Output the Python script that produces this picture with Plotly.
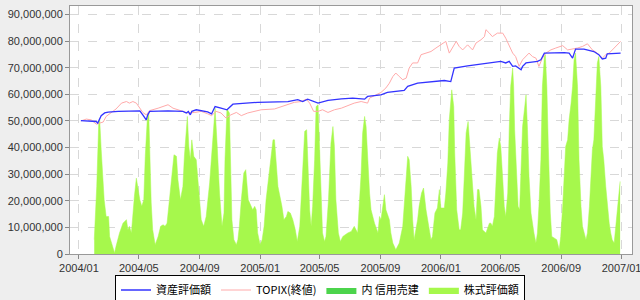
import plotly.graph_objects as go

# 株式評価額 (stock valuation), in yen millions
stock_dates = [
"2004-02-01","2004-02-06","2004-02-10","2004-02-12","2004-02-15","2004-02-21","2004-02-25","2004-03-01","2004-03-03","2004-03-10",
"2004-03-13","2004-03-16","2004-03-23","2004-03-30","2004-04-06","2004-04-09","2004-04-12","2004-04-16","2004-04-19","2004-04-22",
"2004-04-26","2004-04-29","2004-05-03","2004-05-07","2004-05-11","2004-05-14","2004-05-18","2004-05-21","2004-05-23","2004-05-26",
"2004-05-29","2004-06-03","2004-06-09","2004-06-14","2004-06-19","2004-06-23","2004-06-27","2004-07-02","2004-07-07","2004-07-11",
"2004-07-16","2004-07-19","2004-07-24","2004-07-29","2004-08-01","2004-08-05","2004-08-07","2004-08-10","2004-08-13","2004-08-16",
"2004-08-20","2004-08-25","2004-08-30","2004-09-04","2004-09-09","2004-09-14","2004-09-21","2004-09-27","2004-10-02","2004-10-06",
"2004-10-11","2004-10-16","2004-10-20","2004-10-22","2004-10-26","2004-10-31","2004-11-02","2004-11-05","2004-11-09","2004-11-14",
"2004-11-17","2004-11-20","2004-11-24","2004-11-29","2004-12-03","2004-12-06","2004-12-08","2004-12-17","2004-12-21","2004-12-24",
"2004-12-27","2005-01-01","2005-01-05","2005-01-09","2005-01-13","2005-01-20","2005-01-27","2005-01-30","2005-02-02","2005-02-06",
"2005-02-14","2005-02-18","2005-02-23","2005-02-26","2005-03-03","2005-03-08","2005-03-13","2005-03-17","2005-03-22","2005-03-25",
"2005-03-28","2005-04-01","2005-04-05","2005-04-07","2005-04-11","2005-04-14","2005-04-17","2005-04-21","2005-04-24","2005-04-28",
"2005-05-01","2005-05-04","2005-05-07","2005-05-11","2005-05-14","2005-05-19","2005-05-24","2005-05-28","2005-05-31","2005-06-03",
"2005-06-08","2005-06-12","2005-06-17","2005-06-27","2005-07-04","2005-07-10","2005-07-17","2005-07-20","2005-07-24","2005-07-27",
"2005-07-31","2005-08-03","2005-08-06","2005-08-10","2005-08-13","2005-08-20","2005-08-27","2005-08-30","2005-09-02","2005-09-05",
"2005-09-09","2005-09-12","2005-09-19","2005-09-22","2005-09-26","2005-10-02","2005-10-09","2005-10-16","2005-10-19","2005-10-23",
"2005-10-26","2005-10-29","2005-11-02","2005-11-05","2005-11-08","2005-11-15","2005-11-18","2005-11-23","2005-11-27","2005-12-02",
"2005-12-09","2005-12-12","2005-12-15","2005-12-20","2005-12-25","2005-12-29","2006-01-01","2006-01-08","2006-01-11","2006-01-15",
"2006-01-18","2006-01-23","2006-01-27","2006-01-29","2006-02-02","2006-02-07","2006-02-10","2006-02-14","2006-02-17","2006-02-21",
"2006-02-25","2006-03-01","2006-03-06","2006-03-09","2006-03-13","2006-03-16","2006-03-19","2006-03-23","2006-03-26","2006-04-02",
"2006-04-09","2006-04-12","2006-04-15","2006-04-19","2006-04-22","2006-04-25","2006-04-29","2006-05-02","2006-05-06","2006-05-09",
"2006-05-12","2006-05-16","2006-05-19","2006-05-22","2006-05-26","2006-05-28","2006-05-30","2006-06-03","2006-06-06","2006-06-09",
"2006-06-12","2006-06-15","2006-06-18","2006-06-22","2006-06-25","2006-06-28","2006-07-02","2006-07-05","2006-07-08","2006-07-12",
"2006-07-15","2006-07-18","2006-07-22","2006-07-25","2006-07-29","2006-07-31","2006-08-03","2006-08-06","2006-08-10","2006-08-13",
"2006-08-18","2006-08-23","2006-08-28","2006-08-31","2006-09-04","2006-09-07","2006-09-10","2006-09-14","2006-09-17","2006-09-21",
"2006-09-24","2006-09-27","2006-09-30","2006-10-04","2006-10-07","2006-10-11","2006-10-14","2006-10-21","2006-10-24","2006-10-28",
"2006-10-31","2006-11-03","2006-11-06","2006-11-10","2006-11-13","2006-11-16","2006-11-20","2006-11-23","2006-11-26","2006-11-30",
"2006-12-03","2006-12-07","2006-12-10","2006-12-13","2006-12-17","2006-12-20","2006-12-23","2006-12-27","2006-12-29"]
stock_values = [
5.4,25.4,49.2,50.4,39.2,20.4,14.1,14.1,6.6,1.6,
0.4,2.9,7.9,11.6,12.9,9.1,10.4,7.9,16.6,21.6,
28.5,25.4,20.4,17.9,20.4,36.7,50.4,53.0,36.7,19.2,
9.1,3.5,6.6,10.4,11.0,10.4,11.6,20.4,31.7,37.3,
36.7,27.9,20.4,25.4,36.7,49.2,51.7,40.4,35.4,42.9,
36.7,35.4,25.4,12.9,10.4,14.1,26.7,41.7,54.8,41.7,
22.9,10.4,15.4,35.4,54.5,53.0,35.4,12.9,5.4,3.5,
5.4,10.4,20.4,30.4,31.7,25.4,20.4,16.6,17.9,16.6,
7.9,3.5,5.4,10.4,20.4,31.7,42.9,42.9,35.4,25.4,
17.9,12.9,14.1,16.0,15.4,12.9,9.1,4.7,10.4,22.9,
35.4,46.1,46.7,37.9,16.6,10.4,17.9,35.4,55.4,56.1,
40.4,22.9,7.9,4.7,6.6,20.4,41.7,47.9,40.4,20.4,
7.9,4.7,6.6,7.9,8.5,10.4,7.9,17.9,30.4,45.5,
51.7,47.9,35.4,22.9,16.6,11.6,7.9,14.1,12.9,17.9,
22.3,16.6,12.9,7.9,4.1,1.6,4.1,10.4,17.9,27.9,
36.7,35.4,25.4,12.9,5.4,12.9,17.9,22.9,24.8,16.6,
7.9,5.4,6.6,15.4,17.3,24.2,17.3,17.3,22.9,34.2,
50.5,61.7,55.4,37.9,16.6,9.1,9.1,15.4,27.9,45.5,
49.8,37.9,26.7,17.9,12.9,24.2,24.2,17.9,9.1,7.9,
11.6,11.6,10.4,14.1,25.4,37.9,43.6,40.4,27.9,17.9,
14.1,22.9,46.7,63.0,69.9,63.0,46.7,27.9,17.9,16.6,
32.9,47.9,53.0,59.8,46.7,29.2,15.4,10.4,7.9,4.1,
7.9,17.9,35.4,63.0,74.2,74.9,63.0,40.4,15.4,6.6,
6.0,5.4,1.6,6.6,17.9,29.2,40.4,42.9,50.5,56.7,
63.0,73.0,75.5,63.0,35.4,17.9,10.4,5.4,7.9,17.9,
31.7,39.2,42.9,63.0,71.8,74.2,63.0,40.4,35.4,25.4,
17.9,11.6,7.9,5.4,4.1,10.4,17.9,25.4,27.3]

# 資産評価額 (asset valuation), in yen millions
asset_dates = [
"2004-01-05","2004-02-05","2004-02-08","2004-02-15","2004-02-22","2004-02-29","2004-03-20","2004-04-22","2004-05-03","2004-05-09",
"2004-05-16","2004-05-19","2004-05-23","2004-06-29","2004-07-29","2004-08-05","2004-08-09","2004-08-13","2004-08-16","2004-08-25",
"2004-09-04","2004-09-17","2004-09-25","2004-10-02","2004-10-14","2004-10-26","2004-11-07","2004-12-27","2005-02-26","2005-03-18",
"2005-03-28","2005-04-07","2005-04-28","2005-05-18","2005-06-14","2005-07-07","2005-07-31","2005-08-06","2005-09-02","2005-09-15",
"2005-10-19","2005-10-26","2005-11-15","2006-01-08","2006-01-21","2006-01-28","2006-02-24","2006-04-05","2006-05-02","2006-05-12",
"2006-05-19","2006-05-26","2006-06-01","2006-06-12","2006-06-15","2006-06-22","2006-07-15","2006-07-22","2006-07-29","2006-09-07",
"2006-09-17","2006-09-24","2006-09-30","2006-10-17","2006-11-06","2006-11-16","2006-11-23","2006-11-30","2006-12-03","2006-12-30"]
asset_values = [
50.1,49.8,49.2,52.0,53.0,53.3,53.6,53.8,53.8,52.3,
50.4,52.3,53.6,53.8,53.6,53.0,53.6,52.3,53.6,54.2,
53.9,53.4,52.7,55.4,54.8,54.2,56.3,57.0,57.3,58.0,
57.3,58.2,56.7,57.7,58.3,58.6,58.2,59.2,59.8,60.7,
61.5,63.0,64.2,65.2,64.8,69.9,70.7,71.8,72.4,71.8,
72.4,70.5,70.7,69.2,70.5,71.8,72.4,73.0,75.5,75.7,
75.5,73.6,77.0,77.0,76.1,74.9,73.3,73.6,75.2,75.5]

# TOPIX(終値), scaled to the same axis, in millions
topix_dates = [
"2004-01-05","2004-01-16","2004-01-26","2004-02-05","2004-02-12","2004-02-19","2004-02-25","2004-03-06","2004-03-16","2004-03-27",
"2004-04-06","2004-04-12","2004-04-19","2004-04-26","2004-05-03","2004-05-09","2004-05-16","2004-05-23","2004-06-09","2004-06-19",
"2004-06-29","2004-07-09","2004-07-19","2004-07-29","2004-08-08","2004-08-22","2004-09-04","2004-09-17","2004-09-25","2004-10-04",
"2004-10-14","2004-10-24","2004-11-03","2004-11-14","2004-11-24","2004-12-07","2004-12-21","2005-01-03","2005-01-30","2005-02-12",
"2005-02-26","2005-03-11","2005-03-25","2005-04-04","2005-04-11","2005-04-19","2005-04-28","2005-05-07","2005-05-18","2005-05-31",
"2005-06-14","2005-06-27","2005-07-07","2005-07-10","2005-07-24","2005-08-06","2005-08-10","2005-08-20","2005-09-02","2005-09-12",
"2005-09-19","2005-09-26","2005-10-02","2005-10-09","2005-10-16","2005-10-23","2005-10-29","2005-11-05","2005-11-15","2005-11-22",
"2005-12-02","2005-12-12","2005-12-22","2006-01-01","2006-01-11","2006-01-18","2006-01-25","2006-02-01","2006-02-07","2006-02-14",
"2006-02-24","2006-03-06","2006-03-13","2006-03-23","2006-03-30","2006-04-02","2006-04-09","2006-04-15","2006-04-25","2006-05-06",
"2006-05-12","2006-05-19","2006-05-26","2006-06-01","2006-06-08","2006-06-15","2006-06-22","2006-06-28","2006-07-05","2006-07-12",
"2006-07-18","2006-07-25","2006-08-01","2006-08-11","2006-08-21","2006-08-28","2006-09-04","2006-09-14","2006-09-24","2006-10-04",
"2006-10-14","2006-10-24","2006-11-03","2006-11-13","2006-11-23","2006-11-30","2006-12-07","2006-12-17","2006-12-27","2006-12-30"]
topix_values = [
50.0,50.7,50.4,48.8,49.2,49.6,51.7,53.0,54.5,56.7,
57.3,56.7,57.3,56.7,54.8,53.2,52.3,53.9,54.8,55.4,
56.1,54.8,54.2,53.6,53.0,53.2,53.6,52.7,52.0,53.6,
53.0,51.1,52.3,53.2,52.0,53.0,53.6,54.2,54.5,55.4,
56.1,57.0,57.3,58.2,56.7,53.6,53.6,54.2,53.2,54.2,
54.8,55.7,56.5,56.7,57.3,56.7,58.6,59.5,60.7,62.4,
64.2,66.7,68.0,66.7,65.5,66.1,69.9,71.8,71.8,74.9,
75.5,76.1,77.4,78.6,79.9,75.5,78.0,79.9,78.0,76.7,
78.6,76.7,79.3,80.5,81.7,84.3,83.0,81.7,83.0,83.0,
81.1,78.0,75.5,74.2,70.5,73.0,74.2,75.5,74.2,73.6,
70.5,73.6,75.5,76.7,77.4,78.0,78.3,76.7,77.0,77.4,
78.0,79.0,76.7,75.5,73.6,74.9,75.5,77.4,79.5,79.9]

# 内 信用売建 (margin short) - zero throughout
short_dates = ["2004-02-01", "2006-12-29"]
short_values = [0.0, 0.0]

M = 1e6
fig = go.Figure()

fig.add_trace(go.Scatter(
    x=stock_dates, y=[v * M for v in stock_values], name="株式評価額",
    mode="lines", fill="tozeroy", fillcolor="#A6F84C",
    line=dict(color="#A6F84C", width=0.5), legendrank=4))
fig.add_trace(go.Scatter(
    x=short_dates, y=[v * M for v in short_values], name="内 信用売建",
    mode="lines", fill="tozeroy", fillcolor="#4CD44C",
    line=dict(color="#4CD44C", width=0), legendrank=3))
fig.add_trace(go.Scatter(
    x=topix_dates, y=[v * M for v in topix_values], name="TOPIX(終値)",
    mode="lines", line=dict(color="#FFAAAA", width=1), legendrank=2))
fig.add_trace(go.Scatter(
    x=asset_dates, y=[v * M for v in asset_values], name="資産評価額",
    mode="lines", line=dict(color="#3333FF", width=1.3), legendrank=1))

tickfont = dict(family="Arial, Liberation Sans, sans-serif", size=11, color="#333333")
fig.update_layout(
    width=640, height=300,
    margin=dict(l=70, r=8, t=6, b=46, autoexpand=False),
    paper_bgcolor="#EEEEEE", plot_bgcolor="white",
    showlegend=True,
    legend=dict(
        orientation="h", xref="container", yref="container",
        x=0.5, xanchor="center", y=0.085, yanchor="top",
        bgcolor="white", bordercolor="black", borderwidth=1,
        font=dict(family="Noto Sans CJK JP, sans-serif", size=11, color="black"),
        itemwidth=30, tracegroupgap=0, traceorder="normal",
    ),
    xaxis=dict(
        type="date", range=["2003-12-14", "2007-01-22"],
        tick0="2004-01-01", dtick="M4", tickformat="%Y/%m",
        ticks="outside", ticklen=4, tickcolor="#888888",
        ticklabeloverflow="allow", automargin=False,
        showgrid=True, gridcolor="#D8D8D8", griddash="dash", gridwidth=1,
        showline=True, linecolor="#999999", mirror=True,
        tickfont=tickfont, zeroline=False,
    ),
    yaxis=dict(
        range=[0, 93.2e6], dtick=10e6, tickformat=",d",
        ticks="outside", ticklen=4, tickcolor="#888888", automargin=False,
        showgrid=True, gridcolor="#D8D8D8", griddash="dash", gridwidth=1,
        showline=True, linecolor="#999999", mirror=True,
        tickfont=tickfont, zeroline=False,
    ),
)

fig.write_html("out.html")
